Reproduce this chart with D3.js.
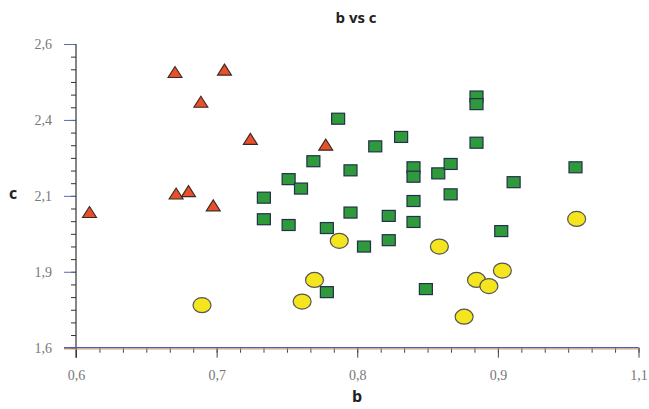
<!DOCTYPE html>
<html><head><meta charset="utf-8">
<script src="https://cdn.jsdelivr.net/npm/d3@7"></script>
<style>body{margin:0;background:#fff}svg{display:block}</style>
</head><body>
<svg id="c" width="649" height="409"></svg>
<script>
const xTickValues = [0.6, 0.725, 0.85, 0.975, 1.1];
const xTickLabels = ["0,6", "0,7", "0,8", "0,9", "1,1"];
const yTickValues = [1.6, 1.85, 2.1, 2.35, 2.6];
const yTickLabels = ["1,6", "1,9", "2,1", "2,4", "2,6"];

const triB = [0.612, 0.689, 0.700, 0.722, 0.688, 0.732, 0.711, 0.755, 0.822];
const triC = [2.045, 2.106, 2.114, 2.067, 2.506, 2.514, 2.408, 2.286, 2.267];

const sqB = [0.833, 0.889, 0.866, 0.956, 0.956, 0.956, 0.811, 0.844, 0.900, 0.900,
             0.922, 0.933, 1.044, 0.789, 0.800, 0.767, 0.900, 0.933, 0.989, 0.844,
             0.878, 0.767, 0.900, 0.789, 0.823, 0.878, 0.856, 0.978, 0.823, 0.911];
const sqC = [2.354, 2.294, 2.263, 2.427, 2.402, 2.275, 2.214, 2.184, 2.194, 2.163,
             2.174, 2.205, 2.194, 2.155, 2.124, 2.094, 2.083, 2.105, 2.145, 2.045,
             2.034, 2.023, 2.014, 2.004, 1.994, 1.954, 1.933, 1.984, 1.783, 1.793];

const cirB = [0.834, 0.923, 1.045, 0.812, 0.801, 0.712, 0.979, 0.956, 0.967, 0.945];
const cirC = [1.952, 1.933, 2.024, 1.823, 1.752, 1.740, 1.854, 1.823, 1.803, 1.702];

const W = 649, H = 409;
const m = {left: 76, right: 10.5, top: 44, bottom: 61.3};
const svg = d3.select("#c");

const x = d3.scaleLinear().domain([0.6, 1.1]).range([m.left, W - m.right]);
const y = d3.scaleLinear().domain([1.6, 2.6]).range([H - m.bottom, m.top]);

const serif = "'Liberation Serif', 'DejaVu Serif', serif";
const sans = "'Open Sans', 'Lato', sans-serif";

// title
svg.append("text").attr("x", 356).attr("y", 23).attr("text-anchor", "middle")
  .attr("font-family", sans).attr("font-weight", "bold").attr("font-size", 15)
  .attr("fill", "#222").text("b vs c");

// minor ticks
const xMinor = d3.range(0, 25).map(i => 0.6 + i * 0.5 / 24);
const yMinor = d3.range(0, 25).map(i => 1.6 + i * 1.0 / 24);

const gx = svg.append("g").attr("transform", `translate(0,${y(1.6)})`);
gx.call(d3.axisBottom(x).tickValues(xMinor).tickSize(5).tickFormat(""))
  .call(g => g.select(".domain").remove())
  .call(g => g.selectAll("line").attr("stroke", "#444"));
const gx2 = svg.append("g").attr("transform", `translate(0,${y(1.6)})`);
gx2.call(d3.axisBottom(x).tickValues(xTickValues).tickSize(10).tickPadding(12)
    .tickFormat((d, i) => xTickLabels[i]))
  .call(g => g.select(".domain").remove())
  .call(g => g.selectAll("line").attr("stroke", "#444"))
  .call(g => g.selectAll("text").attr("font-family", serif).attr("font-size", 14).attr("fill", "#777"));

const gy = svg.append("g").attr("transform", `translate(${x(0.6)},0)`);
gy.call(d3.axisLeft(y).tickValues(yMinor).tickSize(5).tickFormat(""))
  .call(g => g.select(".domain").remove())
  .call(g => g.selectAll("line").attr("stroke", "#333"));
const gy2 = svg.append("g").attr("transform", `translate(${x(0.6)},0)`);
gy2.call(d3.axisLeft(y).tickValues(yTickValues).tickSize(12).tickPadding(12)
    .tickFormat((d, i) => yTickLabels[i]))
  .call(g => g.select(".domain").remove())
  .call(g => g.selectAll("line").attr("stroke", "#5a6ab8"))
  .call(g => g.selectAll("text").attr("font-family", serif).attr("font-size", 14).attr("fill", "#777"));

// axis lines
svg.append("line").attr("x1", x(0.6)).attr("x2", x(0.6)).attr("y1", y(2.6)).attr("y2", y(1.6) + 10)
  .attr("stroke", "#333").attr("stroke-width", 1.2);
svg.append("line").attr("x1", x(0.6) - 12).attr("x2", x(1.1)).attr("y1", y(1.6) + 1.3).attr("y2", y(1.6) + 1.3)
  .attr("stroke", "#e0a050").attr("stroke-width", 1);
svg.append("line").attr("x1", x(0.6) - 12).attr("x2", x(1.1)).attr("y1", y(1.6)).attr("y2", y(1.6))
  .attr("stroke", "#4a5ac8").attr("stroke-width", 1.3);

// axis titles
svg.append("text").attr("x", 357).attr("y", 402).attr("text-anchor", "middle")
  .attr("font-family", sans).attr("font-weight", "bold").attr("font-size", 16)
  .attr("fill", "#222").text("b");
svg.append("text").attr("x", 13).attr("y", 199).attr("text-anchor", "middle")
  .attr("font-family", sans).attr("font-weight", "bold").attr("font-size", 16)
  .attr("fill", "#222").text("c");

// markers
const tri = triB.map((b, i) => ({b, c: triC[i]}));
const sq = sqB.map((b, i) => ({b, c: sqC[i]}));
const cir = cirB.map((b, i) => ({b, c: cirC[i]}));

svg.append("g").selectAll("rect").data(sq).join("rect")
  .attr("x", d => x(d.b) - 6.5).attr("y", d => y(d.c) - 5.5)
  .attr("width", 13).attr("height", 11)
  .attr("fill", "#2e9a3c").attr("stroke", "#23304a").attr("stroke-width", 1.2);

svg.append("g").selectAll("ellipse").data(cir).join("ellipse")
  .attr("cx", d => x(d.b)).attr("cy", d => y(d.c))
  .attr("rx", 9).attr("ry", 7.5)
  .attr("fill", "#f5e51e").attr("stroke", "#555").attr("stroke-width", 1.2);

svg.append("g").selectAll("path").data(tri).join("path")
  .attr("d", "M0,-6L7,5L-7,5Z")
  .attr("transform", d => `translate(${x(d.b)},${y(d.c)})`)
  .attr("fill", "#e8502c").attr("stroke", "#3a2a20").attr("stroke-width", 1.1);
</script>
</body></html>
